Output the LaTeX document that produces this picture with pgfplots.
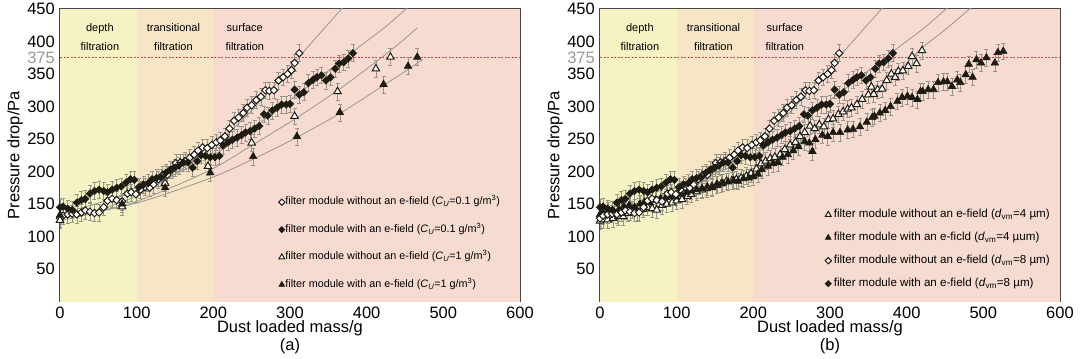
\documentclass[border=0pt]{standalone}
\usepackage{pgfplots}
\pgfplotsset{compat=1.18}
\usepackage{pgfplotstable}
\usepackage{fontspec}
\setmainfont{Liberation Sans}
\definecolor{bandA}{RGB}{245,243,196}
\definecolor{bandB}{RGB}{248,229,197}
\definecolor{bandC}{RGB}{247,219,208}
\definecolor{mk}{RGB}{30,28,18}
\definecolor{eb}{RGB}{150,148,135}
\definecolor{fitc}{RGB}{150,150,150}
\definecolor{refl}{RGB}{195,75,75}

% open diamonds (Cu=0.1 / dvm=8, without e-field)
\pgfplotstableread{
x y
0 128
4 132
10 134
16 135
22 134
28 137
33 140
39 138
45 136
51 137
57 145
62 155
68 158
74 156
81 154
88 166
93 168
99 165
105 172
111 176
117 175
122 180
128 188
134 195
140 195
146 203
151 213
157 214
163 216
169 221
175 226
180 232
186 237
192 236
198 241
204 245
209 248
215 254
221 266
227 278
233 283
239 290
244 298
250 302
256 310
262 315
268 325
273 324
279 325
285 340
291 345
297 350
302 356
306 367
312 382
}\tOD
% filled diamonds (with e-field)
\pgfplotstableread{
x y
0 145
4 146
10 143
16 141
22 152
28 156
33 158
39 166
45 170
51 172
57 170
62 168
68 172
74 175
80 177
86 183
92 188
97 187
103 176
109 180
115 182
120 188
126 190
132 191
138 198
144 203
150 206
155 209
161 214
167 214
173 206
179 216
184 225
190 224
196 222
202 222
208 224
213 240
219 245
225 249
231 252
237 256
242 260
248 262
254 266
260 270
266 288
271 286
277 294
283 298
289 303
295 303
300 304
306 326
312 318
318 322
324 336
330 341
335 345
341 348
347 340
353 345
359 358
364 366
370 368
376 374
382 382
}\tFD
% (a) open triangles (Cu=1, without)
\pgfplotstableread{
x y
0 125
81 146
137 182
193 208
250 244
306 285
362 323
412 358
431 376
}\tOTa
% (a) filled triangles (Cu=1, with)
\pgfplotstableread{
x y
0 133
81 150
137 175
196 198
252 223
309 254
365 291
422 334
454 362
466 376
}\tFTa
% (b) open triangles (dvm=4, without)
\pgfplotstableread{
x y
0 124
4 126
10 126
17 128
24 131
30 131
36 136
42 141
49 138
56 142
62 145
68 143
74 141
81 148
87 150
94 152
100 155
107 157
114 162
119 165
126 169
133 172
139 174
146 177
152 179
158 181
165 185
172 186
178 188
184 190
191 193
197 197
204 204
210 212
216 216
222 220
228 222
235 226
241 234
248 241
255 245
261 254
267 260
274 270
280 266
286 272
292 269
298 280
304 281
311 288
317 292
323 296
328 298
335 303
342 311
350 318
354 330
357 319
362 326
368 327
374 340
380 350
385 345
389 354
395 355
402 362
407 377
413 366
420 386
}\tOTb
% (b) filled triangles (dvm=4, with)
\pgfplotstableread{
x y
0 134
4 137
11 140
18 138
25 142
31 146
38 148
45 145
52 150
58 153
65 152
72 156
79 158
86 160
92 162
99 161
106 165
113 168
119 170
126 172
133 174
140 176
146 175
153 180
160 182
167 184
174 186
180 185
187 189
194 190
200 192
206 196
211 203
219 208
226 212
232 214
238 222
245 226
252 232
259 238
267 246
273 244
277 231
281 249
290 256
297 254
304 260
313 260
323 264
330 265
339 269
348 276
355 283
358 285
365 290
372 294
379 300
388 308
394 314
401 316
407 314
414 311
418 323
421 323
428 326
435 326
441 337
448 338
453 338
459 331
466 341
470 337
477 349
481 365
486 345
491 372
497 367
504 375
515 367
519 383
526 385
}\tFTb

\pgfplotsset{
  panel/.style={
    scale only axis, width=460bp, height=292.5bp,
    xmin=0, xmax=600, ymin=0, ymax=450,
    xtick={0,100,...,600}, ytick={50,100,...,450},
    extra y ticks={375},
    extra y tick style={yticklabel style={text=black!40}, major tick length=0pt},
    tick align=inside, tick pos=left,
    axis line style={line width=1.3bp, draw=black!72},
    major tick length=3bp,
    tick style={black!72, line width=0.8bp},
    ticklabel style={font=\fontsize{16.5bp}{18bp}\selectfont},
    /pgf/number format/assume math mode=true,
    yticklabel style={inner sep=0pt, xshift=-5bp},
    xticklabel style={inner sep=0pt, yshift=-5bp},
    legend cell align=left,
  },
  errs/.style={error bars/.cd, y dir=both, y fixed=13,
    error bar style={eb, line width=0.5bp},
    error mark options={eb, mark size=2bp, line width=0.5bp, rotate=90}},
  dleg/.style={legend image code/.code={\draw[mark repeat=2,mark phase=2,##1, mark size=2.2bp] plot coordinates {(0bp,0bp)(3bp,0bp)(6bp,0bp)};}},
  tleg/.style={legend image code/.code={\draw[mark repeat=2,mark phase=2,##1, mark size=3.3bp] plot coordinates {(0bp,0bp)(3bp,0bp)(6bp,0bp)};}},
  od/.style={only marks, mark=square*, mark size=2.6bp, mark options={rotate=45, fill=white, draw=mk, line width=1bp}, dleg, errs},
  fd/.style={only marks, mark=square*, mark size=2.6bp, mark options={rotate=45, fill=mk, draw=mk, line width=0.6bp}, dleg, errs},
  ot/.style={only marks, mark=triangle*, mark size=4.3bp, mark options={fill=white, draw=mk, line width=1bp}, tleg, errs},
  ft/.style={only marks, mark=triangle*, mark size=4.3bp, mark options={fill=mk, draw=mk, line width=0.6bp}, tleg, errs},
  fit/.style={fitc, line width=0.8bp, smooth, no markers, forget plot},
}
\newcommand{\bands}{%
  \addplot[draw=none, fill=bandA, forget plot] coordinates {(0,0) (0,450) (100,450) (100,0)} -- cycle;
  \addplot[draw=none, fill=bandB, forget plot] coordinates {(100,0) (100,450) (200,450) (200,0)} -- cycle;
  \addplot[draw=none, fill=bandC, forget plot] coordinates {(200,0) (200,450) (600,450) (600,0)} -- cycle;
  \addplot[refl, dash pattern=on 2bp off 1.5bp, line width=0.8bp, forget plot] coordinates {(0,375) (600,375)};
  \node[font=\fontsize{11bp}{18.5bp}\selectfont, align=center] at (axis cs:52,407) {depth\\filtration};
  \node[font=\fontsize{11bp}{18.5bp}\selectfont, align=center] at (axis cs:148,407) {transitional\\filtration};
  \node[font=\fontsize{11bp}{18.5bp}\selectfont, align=center] at (axis cs:241,407) {surface\\filtration};
}

\begin{document}
\begin{tikzpicture}
\path[use as bounding box] (-60bp,-57.5bp) rectangle (1020bp,301.5bp);
\begin{axis}[panel, name=pa,
  legend style={draw=none, fill=none, at={(0.475,0.36)}, anchor=north west,
    font=\fontsize{10.8bp}{12bp}\selectfont, row sep=16bp, inner sep=0pt,
    nodes={inner sep=0.5bp, text height=8bp, text depth=2.5bp}}]
\bands
\addplot[fit] coordinates {(0,128) (47,140) (95,160) (144,192) (192,232) (241,283) (289,345) (328,398) (371,455)};
\addplot[fit] coordinates {(0,135) (95,168) (192,220) (241,258) (289,300) (337,343) (386,388) (424,422) (453,452)};
\addplot[fit] coordinates {(0,124) (95,152) (192,200) (250,240) (308,282) (366,328) (430,385) (466,421)};
\addplot[fit] coordinates {(0,130) (95,150) (192,188) (250,218) (308,252) (366,290) (424,334) (454,357) (473,372)};
\addplot[od] table[x=x, y=y] {\tOD};
\addlegendentry{filter module without an e-field (\textit{C}\textsubscript{\textit{U}}=0.1 g/m\textsuperscript{3})}
\addplot[fd] table[x=x, y=y] {\tFD};
\addlegendentry{filter module with an e-field (\textit{C}\textsubscript{\textit{U}}=0.1 g/m\textsuperscript{3})}
\addplot[ot] table[x=x, y=y] {\tOTa};
\addlegendentry{filter module without an e-field (\textit{C}\textsubscript{\textit{U}}=1 g/m\textsuperscript{3})}
\addplot[ft] table[x=x, y=y] {\tFTa};
\addlegendentry{filter module with an e-field (\textit{C}\textsubscript{\textit{U}}=1 g/m\textsuperscript{3})}
\end{axis}
\node[rotate=90, font=\fontsize{16.5bp}{18bp}\selectfont] at ([xshift=-45bp]pa.west) {Pressure drop/Pa};
\node[font=\fontsize{16.5bp}{18bp}\selectfont] at ([yshift=-27bp]pa.south) {Dust loaded mass/g};
\node[font=\fontsize{16.5bp}{18bp}\selectfont] at ([yshift=-44.5bp]pa.south) {(a)};

\begin{axis}[panel, name=pb, at={(540bp,0bp)}, anchor=south west,
  legend style={draw=none, fill=none, at={(0.489,0.318)}, anchor=north west,
    font=\fontsize{11.6bp}{12bp}\selectfont, row sep=11bp, inner sep=0pt,
    nodes={inner sep=0.5bp, text height=8.5bp, text depth=2.5bp}}]
\bands
\addplot[fit] coordinates {(0,128) (47,140) (95,160) (144,192) (192,232) (241,283) (289,345) (328,398) (371,455)};
\addplot[fit] coordinates {(0,135) (95,168) (192,220) (241,258) (289,300) (337,343) (386,388) (424,422) (453,452)};
\addplot[fit] coordinates {(0,124) (94,152) (191,193) (239,228) (288,268) (336,305) (385,350) (420,390) (452,420) (484,452)};
\addplot[ot] table[x=x, y=y] {\tOTb};
\addlegendentry{\,filter module without an e-field (\textit{d}\textsubscript{vm}=4 µm)}
\addplot[ft] table[x=x, y=y] {\tFTb};
\addlegendentry{\,filter module with an e-ficld (\textit{d}\textsubscript{vm}=4 µum)}
\addplot[od] table[x=x, y=y] {\tOD};
\addlegendentry{\,filter module without an e-field (\textit{d}\textsubscript{vm}=8 µm)}
\addplot[fd] table[x=x, y=y] {\tFD};
\addlegendentry{\,filter module with an e-field (\textit{d}\textsubscript{vm}=8 µm)}
\end{axis}
\node[rotate=90, font=\fontsize{16.5bp}{18bp}\selectfont] at ([xshift=-45bp]pb.west) {Pressure drop/Pa};
\node[font=\fontsize{16.5bp}{18bp}\selectfont] at ([yshift=-27bp]pb.south) {Dust loaded mass/g};
\node[font=\fontsize{16.5bp}{18bp}\selectfont] at ([yshift=-44.5bp]pb.south) {(b)};
\end{tikzpicture}
\end{document}
